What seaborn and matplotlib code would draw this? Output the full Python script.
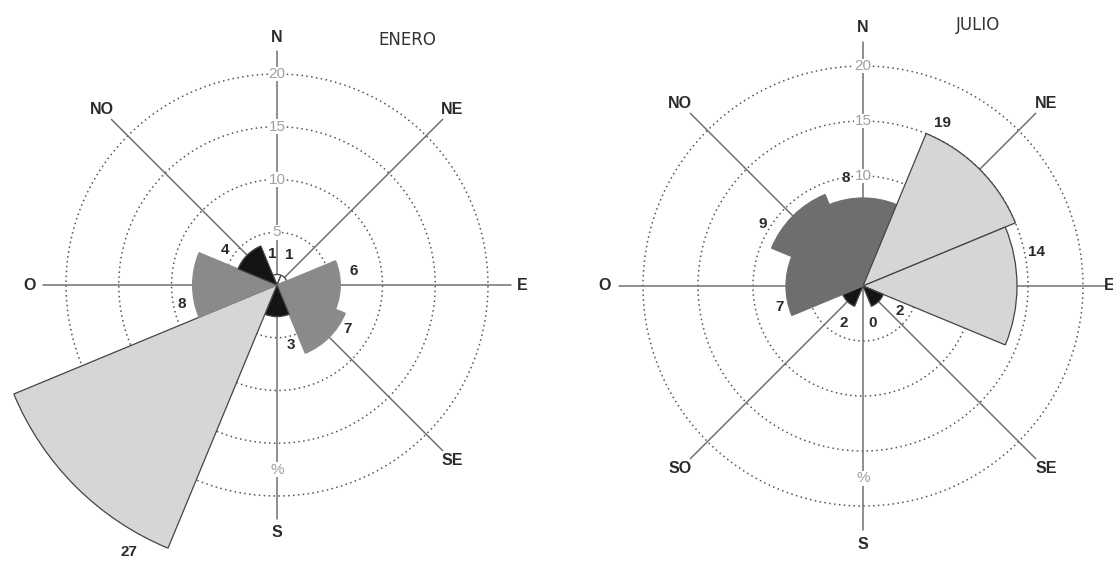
import numpy as np
import matplotlib
matplotlib.use("Agg")
import matplotlib.pyplot as plt
import seaborn as sns

# Rosas de los vientos: frecuencia (%) por dirección, enero y julio
direcciones = ["N", "NE", "E", "SE", "S", "SO", "O", "NO"]
rumbos = [0, 45, 90, 135, 180, 225, 270, 315]

enero_pct = [1, 1, 6, 7, 3, 27, 8, 4]
julio_pct = [8, 19, 14, 2, 0, 2, 7, 9]
# en el original el sector NE de julio llega solo hasta ~15 aunque se rotula 19
julio_largo = [8, 15, 14, 2, 0, 2, 7, 9]

anillos = [5, 10, 15, 20]

# posición de los rótulos de valor (rumbo en grados, radio en %)
pos_enero = [(352, 3.0), (22, 3.1), (80, 7.4), (122, 7.9), (167, 5.8),
             (209, 28.9), (259, 9.2), (304, 5.9)]
pos_julio = [(351, 9.9), (26, 16.5), (79, 16.1), (124, 4.0), (165, 3.5),
             (207, 3.8), (256, 7.8), (302, 10.7)]

W, H = 1113, 563

sns.set_theme(style="white")
plt.rcParams["font.family"] = ["Liberation Sans", "DejaVu Sans"]


def color_sector(v, gris):
    if v < 2:
        return "white"
    if v < 5:
        return "#141414"
    if v < 10:
        return gris
    return "#d6d6d6"


def borde_sector(v, gris):
    # los sectores grises no llevan contorno marcado
    if 5 <= v < 10:
        return gris
    return "#444444"


def rosa(fig, cx, cy, escala, largos, valores, posiciones, gris, r_este, rmax=30):
    """Dibuja una rosa de los vientos centrada en (cx, cy) píxeles."""
    rpx = rmax * escala
    ax = fig.add_axes([(cx - rpx) / W, (H - cy - rpx) / H, 2 * rpx / W, 2 * rpx / H],
                      projection="polar")
    ax.set_theta_zero_location("N")
    ax.set_theta_direction(-1)
    ax.set_ylim(0, rmax)
    ax.grid(False)
    ax.set_xticks([])
    ax.set_yticks([])
    ax.spines["polar"].set_visible(False)
    ax.patch.set_visible(False)

    # anillos punteados
    t = np.linspace(0, 2 * np.pi, 400)
    for r in anillos:
        ax.plot(t, np.full_like(t, r), ls=(0, (1, 2.2)), color="#555555", lw=1.1, zorder=1)

    # ejes de dirección y rótulos
    for nombre, rb in zip(direcciones, rumbos):
        th = np.deg2rad(rb)
        ax.plot([th, th], [0, 22.2], color="#707070", lw=1.1, zorder=2)
        if nombre == "E":
            ax.text(th, r_este, nombre, ha="left", va="center", fontsize=11.5,
                    fontweight="bold", color="#2a2a2a", zorder=3)
        else:
            ax.text(th, 23.5, nombre, ha="center", va="center", fontsize=11.5,
                    fontweight="bold", color="#2a2a2a", zorder=3)

    # rótulos de los anillos
    for r in anillos:
        ax.text(0, r, str(r), ha="center", va="center", fontsize=11, color="#a0a0a0",
                zorder=3, bbox=dict(facecolor="white", edgecolor="none", pad=0.3))
    ax.text(np.pi, 17.5, "%", ha="center", va="center", fontsize=11, color="#a0a0a0",
            zorder=3, bbox=dict(facecolor="white", edgecolor="none", pad=0.3))

    # sectores
    colores = [color_sector(v, gris) for v in valores]
    bordes = [borde_sector(v, gris) for v in valores]
    ax.bar(np.deg2rad(rumbos), largos, width=np.deg2rad(45), bottom=0,
           color=colores, edgecolor=bordes, linewidth=0.9, zorder=4)

    # rótulos de valor
    for v, (a, r) in zip(valores, posiciones):
        ax.text(np.deg2rad(a), r, str(v), ha="center", va="center", fontsize=11,
                fontweight="bold", color="#2a2a2a", zorder=6)
    return ax


fig = plt.figure(figsize=(W / 100, H / 100), dpi=100)
fig.patch.set_facecolor("white")

rosa(fig, 277, 285, 10.55, enero_pct, enero_pct, pos_enero, "#8a8a8a", 22.7)
rosa(fig, 863, 286, 11.0, julio_largo, julio_pct, pos_julio, "#6e6e6e", 21.9)

fig.text(407 / W, 1 - 40 / H, "ENERO", ha="center", va="center", fontsize=12,
         color="#333333", family="DejaVu Sans")
fig.text(978 / W, 1 - 25 / H, "JULIO", ha="center", va="center", fontsize=12,
         color="#333333", family="DejaVu Sans")

fig.savefig("out.png", dpi=100)
plt.close(fig)
